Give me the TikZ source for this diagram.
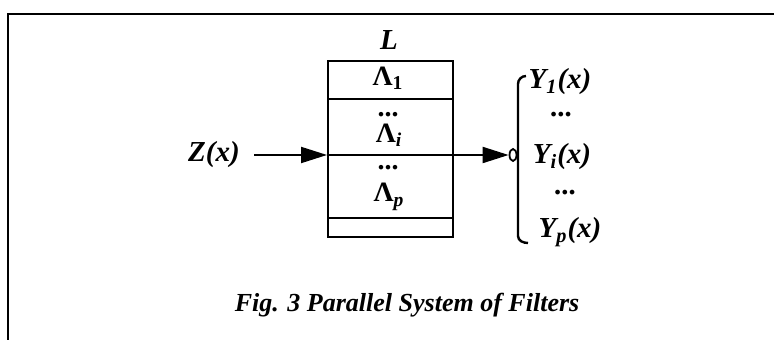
\documentclass[tikz,border=0pt]{standalone}
\usepackage{fontspec}
\setmainfont{Liberation Serif}
\usetikzlibrary{arrows.meta,shapes.geometric}

\tikzset{
  lbl/.style={font=\fontsize{14.5}{16}\selectfont\bfseries\itshape, inner sep=0pt},
  lam/.style={font=\fontsize{14}{16}\selectfont\bfseries, inner sep=0pt},
  arr/.style={line width=1pt, -{Triangle[length=13pt,width=8pt]}},
}

\begin{document}
\begin{tikzpicture}[x=0.5pt,y=-0.5pt]
\useasboundingbox (0,0) rectangle (774,340);

% Frame
\draw[line width=1.3pt] (774,14) -- (8,14) -- (8,340);

% Filter bank L
\node[draw, line width=1pt, minimum width=62.5pt, minimum height=88pt, inner sep=0pt] (box) at (390.5,149) {};
\draw[line width=1pt] (328,99) -- (453,99);
\draw[line width=1pt] (328,218) -- (453,218);
\node[lbl] (ltop) at (389,40) {L};
\node[lam] (lam1) at (388,78) {Λ\textsubscript{1}};
\node[lam] (dots1) at (388,115) {...};
\node[lam] (lami) at (389,135) {Λ\textsubscript{\itshape i}};
\node[lam] (dots2) at (388,168) {...};
\node[lam] (lamp) at (389,197) {Λ\textsubscript{\itshape p}};

% Input and output
\node[lbl] (zx) at (214,155) {Z(x)};
\node[draw, ellipse, line width=0.9pt, minimum width=3.5pt, minimum height=6pt, inner sep=0pt] (knob) at (513,155) {};
\draw[arr] ([xshift=7pt]zx.east) -- (zx -| box.west);
\draw[arr] (zx -| box.west) -- (knob.west);

% Brace of outputs
\draw[line width=1.2pt] (526,76) to[out=180,in=90] (518,84) -- (518,236) to[out=-90,in=180] (528,243);
\node[lbl] (y1) at (560,82) {Y\textsubscript{1}(x)};
\node[lbl] (ydots1) at (562,115) {...};
\node[lbl] (yi) at (562,157) {Y\textsubscript{i}(x)};
\node[lbl] (ydots2) at (566,193) {...};
\node[lbl] (yp) at (570,232) {Y\textsubscript{p}(x)};

% Caption
\node[font=\fontsize{13}{15}\selectfont\bfseries\itshape] (cap) at (407,305) {Fig. 3 Parallel System of Filters};
\end{tikzpicture}
\end{document}
